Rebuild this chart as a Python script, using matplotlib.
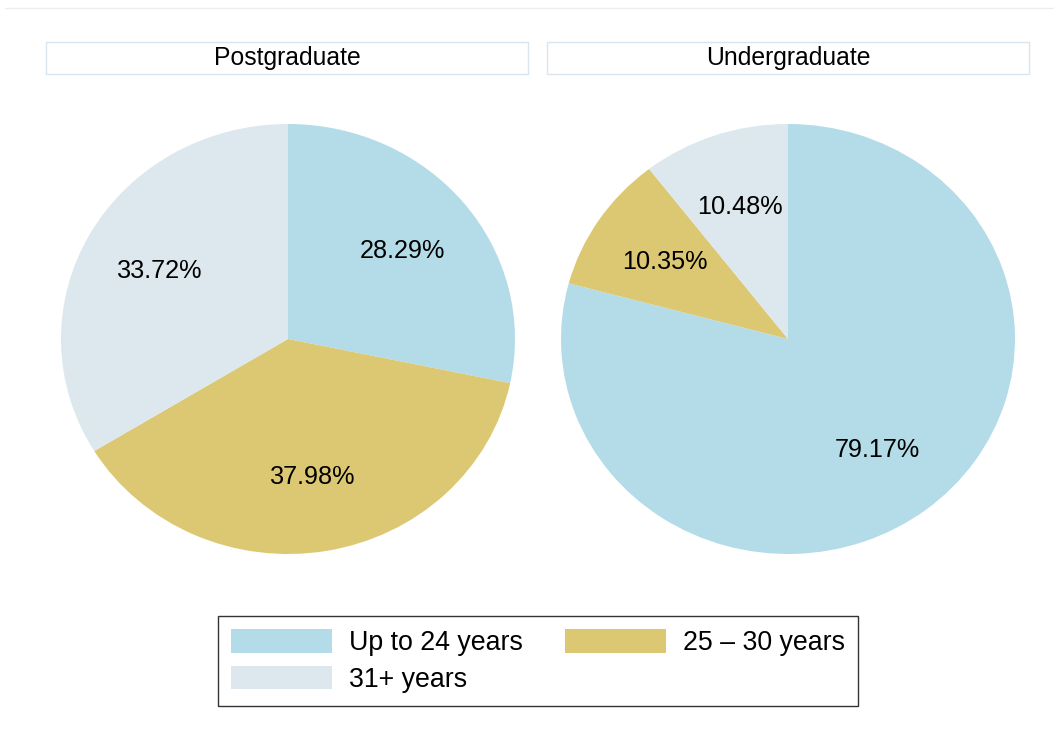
import matplotlib
matplotlib.use("Agg")
import matplotlib.pyplot as plt
from matplotlib.patches import Rectangle
from matplotlib.lines import Line2D

plt.rcParams["font.family"] = ["Liberation Sans", "DejaVu Sans"]

# data
groups = ["Postgraduate", "Undergraduate"]
age_labels = ["Up to 24 years", "25 \u2013 30 years", "31+ years"]
shares = {
    "Postgraduate": [28.29, 37.98, 33.72],
    "Undergraduate": [79.17, 10.35, 10.48],
}
colors = ["#b4dce8", "#dcc872", "#dce8ed"]

W, H = 1054, 731
fig = plt.figure(figsize=(W / 100, H / 100), dpi=100)
fig.patch.set_facecolor("white")

# faint rule along the top
fig.add_artist(Line2D([5 / W, 1.0], [1 - 8 / H, 1 - 8 / H],
                      color="#e8eef2", lw=1))

pie_left = [61, 561]
box_left = [46, 547]
wedges = None
for i, g in enumerate(groups):
    ax = fig.add_axes([pie_left[i] / W, (H - 554) / H, 454 / W, 430 / H])
    wedges, texts, autotexts = ax.pie(
        shares[g], colors=colors, startangle=90, counterclock=False,
        autopct=lambda p: f"{p:.2f}%", pctdistance=0.65,
        wedgeprops=dict(linewidth=0),
        textprops=dict(fontsize=18.2, color="black"))
    ax.set_aspect("auto")
    ax.set_xlim(-1, 1)
    ax.set_ylim(-1, 1)

    # panel title box
    fig.add_artist(Rectangle((box_left[i] / W, (H - 74) / H), 482 / W, 32 / H,
                             facecolor="white", edgecolor="#d8e4ee", lw=1))
    fig.text((box_left[i] + 241) / W, (H - 58) / H, g,
             ha="center", va="center", fontsize=17.8)

# legend filled row by row: (A B / C)
order = [0, 2, 1]
leg = fig.legend([wedges[k] for k in order], [age_labels[k] for k in order],
                 ncol=2, loc="center",
                 bbox_to_anchor=(538 / W, 1 - 661 / H),
                 fontsize=19.3, frameon=True, fancybox=False,
                 edgecolor="black", handlelength=3.75, handleheight=0.98,
                 handletextpad=0.62, columnspacing=1.6, labelspacing=0.35,
                 borderpad=0.5)
leg.get_frame().set_linewidth(1)

fig.savefig("out.png", dpi=100, facecolor="white")
